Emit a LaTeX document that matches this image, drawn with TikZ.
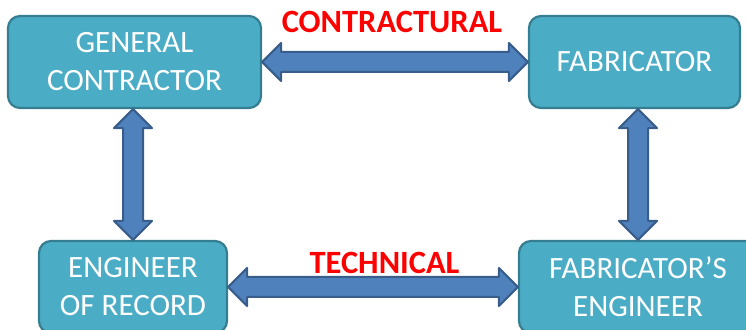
\documentclass[tikz,border=0pt]{standalone}
\usepackage{fontspec}
\setmainfont{Carlito}
\usetikzlibrary{calc}
\definecolor{boxfill}{HTML}{4BACC6}
\definecolor{boxline}{HTML}{357D91}
\definecolor{arrowfill}{HTML}{4F81BD}
\definecolor{arrowline}{HTML}{385D8A}
\tikzset{
  party/.style={draw=boxline, line width=2.2pt, fill=boxfill, rounded corners=12pt,
    text=white, align=center, inner sep=0pt,
    font=\fontsize{31}{38}\selectfont, minimum height=92pt},
  blockarrow/.style={draw=arrowline, line width=2pt, fill=arrowfill, line join=round},
  relation/.style={text=red, font=\fontsize{32.5}{35}\selectfont\bfseries, anchor=base, inner sep=0pt}
}
% double block arrow along x between two points at height y
\newcommand\hdoublearrow[3]{%
  \draw[blockarrow] (#1,#3) -- ++(19,19) -- ++(0,-9) -- (#2-19,#3+10) -- ++(0,9)
    -- (#2,#3) -- ++(-19,-19) -- ++(0,9) -- (#1+19,#3-10) -- ++(0,-9) -- cycle;}
% double block arrow along y between two points at abscissa x
\newcommand\vdoublearrow[3]{%
  \draw[blockarrow] (#3,#1) -- ++(19,-19) -- ++(-9,0) -- (#3+10,#2+19) -- ++(9,0)
    -- (#3,#2) -- ++(-19,19) -- ++(9,0) -- (#3-10,#1-19) -- ++(-9,0) -- cycle;}
\begin{document}
\begin{tikzpicture}[x=1pt,y=1pt]
\useasboundingbox (0,0) rectangle (746,329);
\begin{scope}
\clip (0,0) rectangle (746,329);
\node[party, minimum width=253pt] (gc) at (134.5,267) {GENERAL\\CONTRACTOR};
\node[party, minimum width=211pt] (fab) at (634.5,267) {FABRICATOR};
\node[party, minimum width=188pt] (eor) at (133,42) {ENGINEER\\OF RECORD};
\node[party, minimum width=238pt] (fe) at (638,42) {FABRICATOR’S\\ENGINEER};
\end{scope}

\path let \p1=(gc.east), \p2=(fab.west) in \pgfextra{\hdoublearrow{\x1}{\x2}{\y1}};
\path let \p1=(eor.east), \p2=(fe.west) in \pgfextra{\hdoublearrow{\x1}{\x2}{\y1}};
\path let \p1=(gc.south), \p2=(eor.north) in \pgfextra{\vdoublearrow{\y1}{\y2}{\x2}};
\path let \p1=(fab.south), \p2=(fe.north) in \pgfextra{\vdoublearrow{\y1}{\y2}{\x2}};

\node[relation] (contract) at (392,296.3) {CONTRACTURAL};
\node[relation] (tech) at (384.5,55) {TECHNICAL};
\end{tikzpicture}
\end{document}
